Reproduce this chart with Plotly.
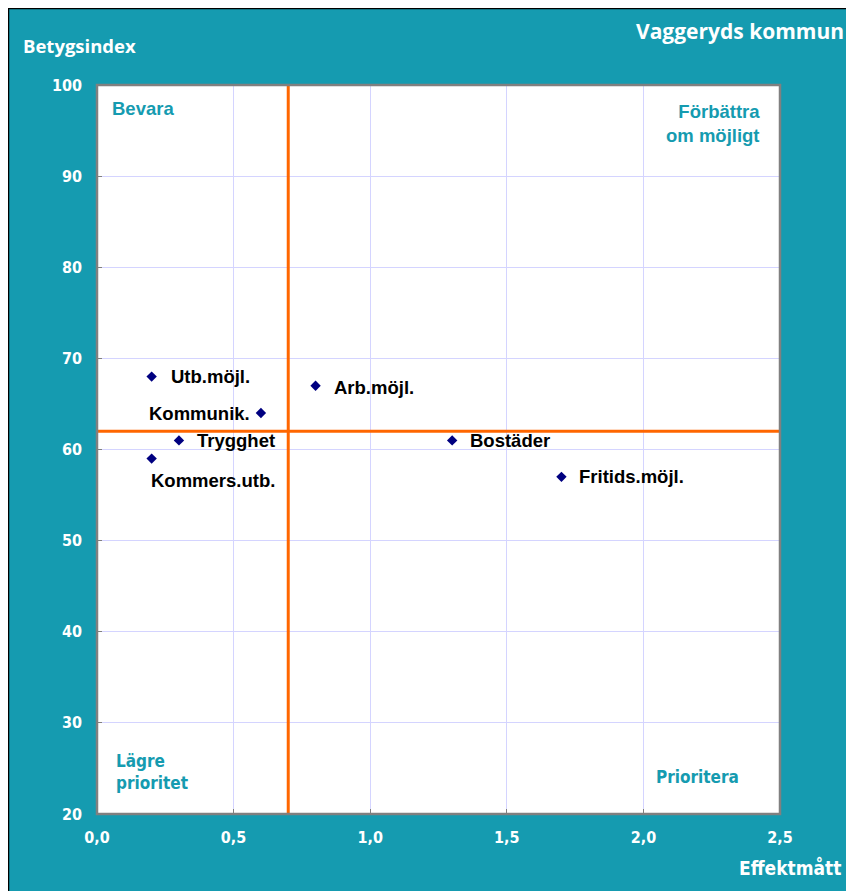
import plotly.graph_objects as go

# Data
names = ["Utb.möjl.", "Kommunik.", "Trygghet", "Kommers.utb.", "Arb.möjl.", "Bostäder", "Fritids.möjl."]
effekt = [0.2, 0.6, 0.3, 0.2, 0.8, 1.3, 1.7]
betyg = [68, 64, 61, 59, 67, 61, 57]
x_split = 0.7
y_split = 62
x_ticks = [0.0, 0.5, 1.0, 1.5, 2.0, 2.5]
x_tick_labels = ["0,0", "0,5", "1,0", "1,5", "2,0", "2,5"]
y_ticks = [20, 30, 40, 50, 60, 70, 80, 90, 100]

TEAL = "#159BB0"
OFF = 8  # page body margin
W, H = 854, 891
# plot area in page coordinates
L, R, T, B = 97, 780, 85, 814

def px2x(px):
    return (px - L) / (R - L)

def py2y(py):
    return (B - py) / (B - T)

NARROW = "DejaVu Sans Condensed, Liberation Sans"

fig = go.Figure()

fig.add_trace(go.Scatter(
    x=effekt, y=betyg, mode="markers",
    marker=dict(symbol="diamond", size=8, color="#000080"),
    hoverinfo="skip", showlegend=False, cliponaxis=False))

# label placement (anchor, xshift, yshift)
label_pos = {
    "Utb.möjl.": ("left", 17, 0),
    "Kommunik.": ("right", -9, 0),
    "Trygghet": ("left", 16, 0),
    "Kommers.utb.": ("left", -3, -22),
    "Arb.möjl.": ("left", 16, -2),
    "Bostäder": ("left", 16, 0),
    "Fritids.möjl.": ("left", 16, 0),
}
for n, xv, yv in zip(names, effekt, betyg):
    anc, xs, ys = label_pos[n]
    fig.add_annotation(x=xv, y=yv, text=n, showarrow=False, xanchor=anc, yanchor="middle",
                       xshift=xs, yshift=ys,
                       font=dict(family="Liberation Sans", size=18.5, color="black", weight="bold"))

shapes = [
    dict(type="rect", xref="paper", yref="paper", x0=px2x(8.5), x1=px2x(950), y0=py2y(950), y1=py2y(8.5),
         fillcolor="rgba(0,0,0,0)", line=dict(color="black", width=1.5), layer="below"),
    dict(type="rect", xref="paper", yref="paper", x0=0, x1=1, y0=0, y1=1,
         fillcolor="white", line=dict(width=0), layer="below"),
    dict(type="line", xref="x", yref="paper", x0=x_split, x1=x_split, y0=0, y1=1,
         line=dict(color="#FF6600", width=3)),
    dict(type="line", xref="paper", yref="y", x0=0, x1=1, y0=y_split, y1=y_split,
         line=dict(color="#FF6600", width=3)),
    dict(type="rect", xref="paper", yref="paper", x0=0, x1=1, y0=0, y1=1,
         fillcolor="rgba(0,0,0,0)", line=dict(color="#808080", width=2.5)),
]
fig.update_layout(shapes=shapes)

quad_font = dict(family="Liberation Sans", size=18.5, color=TEAL, weight="bold")
narrow_font = dict(family=NARROW, size=17, color=TEAL, weight="bold")
ann = [
    dict(x=px2x(110), y=py2y(108), text="Bevara", xanchor="left", yanchor="middle", font=quad_font),
    dict(x=px2x(762), y=py2y(123), text="Förbättra<br>om möjligt", xanchor="right", yanchor="middle",
         align="right", font=quad_font),
    dict(x=px2x(114), y=py2y(772), text="Lägre<br>prioritet", xanchor="left", yanchor="middle",
         align="left", font=narrow_font),
    dict(x=px2x(741), y=py2y(777), text="Prioritera", xanchor="right", yanchor="middle", font=narrow_font),
    dict(x=px2x(21), y=py2y(46), text="Betygsindex", xanchor="left", yanchor="middle",
         font=dict(family="Open Sans", size=18.5, color="white", weight="bold")),
    dict(x=px2x(634), y=py2y(31), text="Vaggeryds kommun", xanchor="left", yanchor="middle",
         font=dict(family="Open Sans", size=21, color="white", weight="bold")),
    dict(x=px2x(843), y=py2y(868), text="Effektmått", xanchor="right", yanchor="middle",
         font=dict(family=NARROW, size=19, color="white", weight="bold")),
]
for a in ann:
    a.update(xref="paper", yref="paper", showarrow=False)
    fig.add_annotation(**a)

tick_font = dict(family=NARROW, size=16, color="white", weight="bold")
fig.update_xaxes(range=[0, 2.5], tickvals=x_ticks, ticktext=x_tick_labels, showgrid=True,
                 gridcolor="#D4D4FF", gridwidth=1, zeroline=False, ticks="inside", ticklen=5,
                 tickcolor="#808080", tickfont=tick_font, ticklabelstandoff=12, showline=False)
fig.update_yaxes(range=[20, 100], tickvals=y_ticks, showgrid=True,
                 gridcolor="#D4D4FF", gridwidth=1, zeroline=False, ticks="inside", ticklen=5,
                 tickcolor="#808080", tickfont=tick_font, ticklabelstandoff=14, showline=False)

fig.update_layout(width=W, height=H,
                  margin=dict(l=L - OFF, r=W + OFF - R, t=T - OFF, b=H + OFF - B, pad=0),
                  paper_bgcolor=TEAL, plot_bgcolor="rgba(0,0,0,0)", showlegend=False)

fig.write_html("out.html",
               post_script="document.documentElement.style.overflow='hidden';"
                           "document.body.style.overflow='hidden';")
